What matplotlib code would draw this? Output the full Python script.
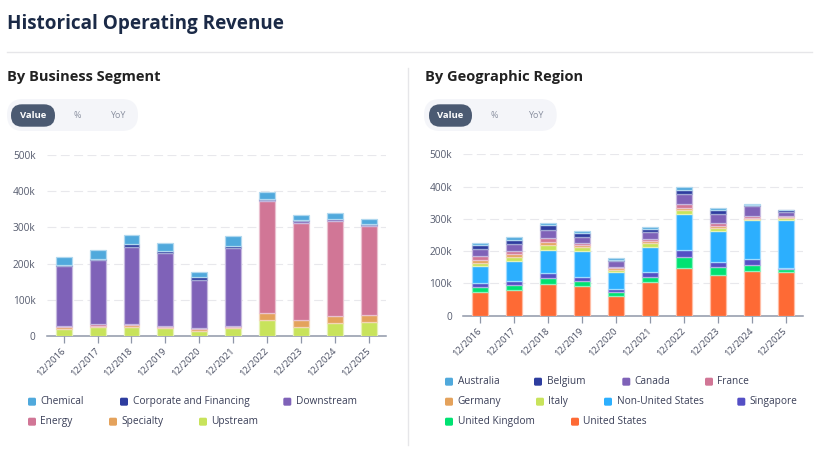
import matplotlib
matplotlib.use("Agg")
import matplotlib.pyplot as plt
from matplotlib.patches import FancyBboxPatch
from matplotlib.ticker import FuncFormatter
import matplotlib.colors as mcolors
import numpy as np

plt.rcParams['font.family'] = ['Open Sans', 'DejaVu Sans']

# ---------------- data ----------------
years = ["12/2016", "12/2017", "12/2018", "12/2019", "12/2020",
         "12/2021", "12/2022", "12/2023", "12/2024", "12/2025"]

# By Business Segment (thousands)
seg_names = ["Chemical", "Corporate and Financing", "Downstream", "Energy", "Specialty", "Upstream"]
chemical   = [21, 24, 26, 22, 14, 29, 20, 15, 16, 15]
corporate  = [4, 5, 7, 6, 7, 6, 2, 2, 2, 2]
downstream = [166, 177, 213, 199, 135, 213, 4, 5, 4, 4]
energy     = [3, 3, 3, 3, 3, 3, 310, 270, 262, 246]
specialty  = [5, 5, 6, 5, 5, 5, 19, 19, 19, 18]
upstream   = [19, 24, 24, 21, 13, 21, 44, 24, 37, 39]
seg_values = [chemical, corporate, downstream, energy, specialty, upstream]

# By Geographic Region (thousands)
geo_names = ["Australia", "Belgium", "Canada", "France", "Germany", "Italy",
             "Non-United States", "Singapore", "United Kingdom", "United States"]
australia = [7, 7, 6, 5, 5, 6, 8, 6, 2, 1]
belgium   = [12, 13, 16, 12, 5, 11, 12, 12, 4, 5]
canada    = [21, 22, 22, 19, 17, 21, 33, 29, 30, 14]
france    = [12, 11, 14, 5, 4, 8, 11, 9, 6, 2]
germany   = [11, 8, 9, 7, 6, 5, 7, 4, 3, 3]
italy     = [10, 11, 14, 13, 6, 13, 13, 11, 5, 8]
non_us    = [52, 63, 73, 80, 52, 77, 111, 96, 120, 147]
singapore = [13, 12, 16, 13, 10, 16, 21, 16, 18, 4]
uk        = [15, 16, 18, 16, 11, 16, 34, 23, 18, 8]
us        = [73, 80, 98, 91, 62, 103, 148, 127, 140, 136]
geo_values = [australia, belgium, canada, france, germany, italy, non_us, singapore, uk, us]

yticks = [0, 100, 200, 300, 400, 500]

# ---------------- styles ----------------
seg_colors = ["#50a9dc", "#2e3d9f", "#7f62b8", "#d17696", "#e4a25c", "#c8e35b"]
geo_colors = ["#50a9dc", "#2e3d9f", "#7f62b8", "#d17696", "#e4a25c", "#c8e35b",
              "#2caffe", "#544fc5", "#00e272", "#fe6a35"]

W, H = 824, 455
fig = plt.figure(figsize=(W / 100, H / 100), dpi=100)
fig.patch.set_facecolor("white")

# background overlay axes in pixel coordinates
bg = fig.add_axes([0, 0, 1, 1], zorder=0)
bg.set_xlim(0, W)
bg.set_ylim(H, 0)
bg.axis("off")

def lighten(c, f=0.55):
    r, g, b = mcolors.to_rgb(c)
    return (r + (1 - r) * f, g + (1 - g) * f, b + (1 - b) * f)

def ax_rect(x0, x1, y_top, y_bot):
    return [x0 / W, 1 - y_bot / H, (x1 - x0) / W, (y_bot - y_top) / H]

def draw_chart(rect, names, values, colors):
    ax = fig.add_axes(rect, zorder=2)
    ax.set_facecolor("none")
    x = np.arange(len(years))
    bottom = np.zeros(len(years))
    # stack: last legend item at bottom
    for name, vals, col in reversed(list(zip(names, values, colors))):
        v = np.array(vals, dtype=float)
        ax.bar(x, v, width=0.47, bottom=bottom, color=col,
               edgecolor=lighten(col, 0.55), linewidth=0.9, zorder=3)
        bottom += v
    ax.set_xlim(-0.5, len(years) - 0.5)
    ax.set_ylim(0, 500)
    ax.set_yticks(yticks)
    ax.yaxis.set_major_formatter(FuncFormatter(lambda v, p: "0" if v == 0 else f"{int(v)}k"))
    for yv in yticks[1:]:
        ax.axhline(yv, color="#e8e8ec", linewidth=0.8, linestyle=(0, (8, 4)), zorder=1)
    for s in ["top", "right", "left"]:
        ax.spines[s].set_visible(False)
    ax.spines["bottom"].set_color("#8f97a8")
    ax.spines["bottom"].set_linewidth(1.1)
    ax.set_xticks(x)
    ax.set_xticklabels(years, rotation=45, ha="right", va="center",
                       rotation_mode="anchor", fontsize=6.8, color="#4a4f63")
    ax.tick_params(axis="x", direction="out", length=5, width=0.9, color="#8f97a8", pad=5)
    ax.tick_params(axis="y", length=0, pad=8, labelsize=7.3, labelcolor="#555b6e")
    return ax

draw_chart(ax_rect(46.7, 385.8, 155, 336), seg_names, seg_values, seg_colors)
draw_chart(ax_rect(463.4, 802.6, 154.3, 315.7), geo_names, geo_values, geo_colors)

# ---------------- header / decorations ----------------
bg.text(7, 24, "Historical Operating Revenue", fontsize=13.6, fontweight="bold",
        color="#1b2a47", va="center", ha="left")
bg.plot([7, 812], [52.3, 52.3], color="#e6e6e9", linewidth=1)
bg.plot([408.3, 408.3], [68, 445], color="#e6e6e9", linewidth=1)

def subtitle(x, text):
    bg.text(x, 76.5, text, fontsize=10.5, fontweight="bold", color="#222222",
            va="center", ha="left")

subtitle(7, "By Business Segment")
subtitle(425, "By Geographic Region")

def toggle(x0, x1, vx0, vx1, pct_x, yoy_x):
    bg.add_patch(FancyBboxPatch((x0, 99), x1 - x0, 32,
                                boxstyle="round,pad=0,rounding_size=16",
                                facecolor="#f4f5f9", edgecolor="none"))
    bg.add_patch(FancyBboxPatch((vx0, 104.3), vx1 - vx0, 22.4,
                                boxstyle="round,pad=0,rounding_size=11",
                                facecolor="#4b5a72", edgecolor="none"))
    bg.text((vx0 + vx1) / 2, 115.5, "Value", fontsize=6.8, fontweight="bold",
            color="white", ha="center", va="center")
    bg.text(pct_x, 115.5, "%", fontsize=6.5, color="#8a90a0", ha="center", va="center")
    bg.text(yoy_x, 115.5, "YoY", fontsize=6.5, color="#8a90a0", ha="center", va="center")

toggle(7, 138, 11, 55, 77, 118)
toggle(424, 556.7, 429, 472, 494.3, 536)

# ---------------- legends ----------------
def legend_items(names, colors, positions):
    for name, col, (mx, tx, y) in zip(names, colors, positions):
        bg.add_patch(FancyBboxPatch((mx, y - 4), 8, 8,
                                    boxstyle="round,pad=0,rounding_size=1.5",
                                    facecolor=col, edgecolor="none"))
        bg.text(tx, y, name, fontsize=7.3, color="#3a3f58", ha="left", va="center")

seg_legend_pos = [(28, 40, 401.7), (120, 133, 401.7), (283.3, 296, 401.7),
                  (28, 40, 421.7), (109, 121, 421.7), (199, 211, 421.7)]
geo_legend_pos = [(445, 457.7, 381.7), (534, 546.7, 381.7), (622.3, 634, 381.7), (705, 717.3, 381.7),
                  (445, 457.7, 401.7), (536, 548.3, 401.7), (604, 616.7, 401.7), (737.3, 749.7, 401.7),
                  (445, 457.7, 421.7), (571, 583.3, 421.7)]
legend_items(seg_names, seg_colors, seg_legend_pos)
legend_items(geo_names, geo_colors, geo_legend_pos)

fig.savefig("out.png", dpi=100, facecolor="white")
